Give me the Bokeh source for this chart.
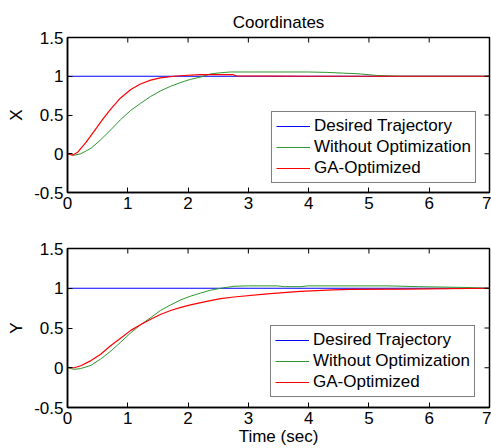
from bokeh.plotting import figure
from bokeh.models import Range1d, FixedTicker, Legend, LegendItem, NumeralTickFormatter
from bokeh.layouts import column
from bokeh.embed import file_html
from bokeh.resources import INLINE

# ---------------- data ----------------
x_ticks = [0, 1, 2, 3, 4, 5, 6, 7]
x_tick_labels = ["0", "1", "2", "3", "4", "5", "6", "7"]
y_ticks = [-0.5, 0, 0.5, 1, 1.5]
y_tick_labels = ["-0.5", "0", "0.5", "1", "1.5"]

series_names = ["Desired Trajectory", "Without Optimization", "GA-Optimized"]

# desired trajectory (both coordinates)
t_desired = [0, 7]
desired = [1, 1]

# X coordinate
t_x_without = [0, 0.11, 0.22, 0.39, 0.55, 0.72, 0.88, 1.05, 1.21, 1.38, 1.54, 1.71, 1.88,
               2.04, 2.21, 2.37, 2.54, 2.7, 3.0, 3.5, 4.0, 4.3, 4.58, 4.86, 5.13, 5.5, 6.0, 7.0]
x_without = [0, -0.02, 0.0, 0.07, 0.18, 0.31, 0.44, 0.56, 0.65, 0.74, 0.81, 0.87, 0.92,
             0.96, 0.99, 1.03, 1.045, 1.055, 1.055, 1.055, 1.055, 1.05, 1.04, 1.03, 1.01, 1.0, 1.0, 1.0]

t_x_ga = [0, 0.08, 0.17, 0.30, 0.44, 0.58, 0.72, 0.88, 1.05, 1.21, 1.38, 1.54, 1.77, 1.93,
          2.2, 2.75, 2.8, 4.0, 7.0]
x_ga = [0, -0.02, 0.02, 0.14, 0.29, 0.44, 0.58, 0.72, 0.83, 0.90, 0.95, 0.98, 1.0, 1.01,
        1.02, 1.02, 1.005, 1.0, 1.0]

# Y coordinate
t_y_without = [0, 0.11, 0.22, 0.39, 0.55, 0.72, 0.88, 1.05, 1.21, 1.38, 1.54, 1.71, 1.88,
               2.04, 2.21, 2.37, 2.54, 2.76, 3.0, 3.48, 3.6, 3.86, 4.0, 5.0, 5.3, 5.82, 6.6, 7.0]
y_without = [0, -0.02, -0.01, 0.03, 0.11, 0.21, 0.32, 0.44, 0.54, 0.63, 0.72, 0.79, 0.855,
             0.90, 0.94, 0.975, 1.0, 1.025, 1.03, 1.03, 1.02, 1.02, 1.03, 1.03, 1.03, 1.02, 1.01, 1.0]

t_y_ga = [0, 0.11, 0.22, 0.39, 0.55, 0.72, 0.88, 1.05, 1.21, 1.38, 1.54, 1.71, 1.88, 2.04,
          2.21, 2.37, 2.54, 2.76, 3.31, 3.86, 4.41, 4.69, 5.6, 7.0]
y_ga = [0, 0.0, 0.025, 0.09, 0.17, 0.28, 0.37, 0.47, 0.54, 0.61, 0.67, 0.72, 0.76, 0.79,
        0.82, 0.845, 0.87, 0.89, 0.93, 0.96, 0.98, 0.985, 0.99, 1.0]

X_MIN, X_MAX = 0, 7
Y_MIN, Y_MAX = -0.5, 1.5

FONT = "Liberation Sans"
COLORS = ["#0000ff", "#2e962e", "#ff0000"]


def style_axis(ax, ticks, labels):
    ax.ticker = FixedTicker(ticks=ticks)
    ax.formatter = NumeralTickFormatter(format="0.[0]")
    ax.major_label_overrides = {t: l for t, l in zip(ticks, labels)}
    ax.major_tick_in = 5
    ax.major_tick_out = 0
    ax.minor_tick_line_color = None
    ax.axis_line_color = "black"
    ax.axis_line_width = 1.5
    ax.major_tick_line_color = "black"
    ax.major_label_text_font = FONT
    ax.major_label_text_color = "black"
    ax.major_label_text_font_size = "17px"
    ax.major_label_standoff = 4
    ax.axis_label_text_font = FONT
    ax.axis_label_text_font_style = "normal"
    ax.axis_label_text_font_size = "17px"
    ax.axis_label_text_color = "black"


def make_panel(ylabel, t_w, v_w, t_g, v_g, frame_h, top, bottom, legend_loc, title=None, xlabel=None):
    p = figure(frame_width=422, frame_height=frame_h, output_backend="svg", toolbar_location=None,
               x_range=Range1d(X_MIN, X_MAX), y_range=Range1d(Y_MIN, Y_MAX),
               min_border_left=67, min_border_right=2, min_border_top=top, min_border_bottom=bottom,
               background_fill_color="white", border_fill_color="white")
    p.grid.visible = False
    p.outline_line_color = "black"
    p.outline_line_width = 1.5

    style_axis(p.xaxis[0], x_ticks, x_tick_labels)
    style_axis(p.yaxis[0], y_ticks, y_tick_labels)
    p.yaxis[0].axis_label = ylabel
    p.yaxis[0].axis_label_standoff = 5
    if xlabel:
        p.xaxis[0].axis_label = xlabel
        p.xaxis[0].axis_label_standoff = 0

    r0 = p.line(t_desired, desired, line_color=COLORS[0], line_width=1)
    r1 = p.line(t_w, v_w, line_color=COLORS[1], line_width=1)
    r2 = p.line(t_g, v_g, line_color=COLORS[2], line_width=1.2)

    # inward tick marks on the top and right edges of the box (clipped to the frame)
    p.rect(x=x_ticks, y=[Y_MAX] * len(x_ticks), width=1, height=10,
           width_units="screen", height_units="screen", fill_color="black", line_color=None)
    p.rect(x=[X_MAX] * len(y_ticks), y=y_ticks, width=10, height=1,
           width_units="screen", height_units="screen", fill_color="black", line_color=None)

    if title:
        p.title.text = title
        p.title.align = "center"
        p.title.text_font = FONT
        p.title.text_font_size = "17px"
        p.title.text_font_style = "normal"
        p.title.text_color = "black"
        p.title.standoff = 11

    legend = Legend(items=[LegendItem(label=series_names[0], renderers=[r0]),
                           LegendItem(label=series_names[1], renderers=[r1]),
                           LegendItem(label=series_names[2], renderers=[r2])],
                    location=legend_loc)
    legend.label_text_font = FONT
    legend.label_text_font_size = "17px"
    legend.label_text_color = "black"
    legend.border_line_color = "black"
    legend.border_line_width = 1
    legend.background_fill_color = "white"
    legend.background_fill_alpha = 1
    legend.glyph_width = 34
    legend.glyph_height = 20
    legend.label_height = 20
    legend.label_standoff = 4
    legend.spacing = 1
    legend.padding = 4
    legend.margin = 0
    p.add_layout(legend, "center")
    return p


p1 = make_panel("X", t_x_without, x_without, t_x_ga, x_ga, 155, 37, 28, (204, 9), title="Coordinates")
p2 = make_panel("Y", t_y_without, y_without, t_y_ga, y_ga, 159, 28, 41, (203, 10), xlabel="Time (sec)")

layout = column(p1, p2, spacing=0)
open("out.html", "w").write(file_html(layout, INLINE))
